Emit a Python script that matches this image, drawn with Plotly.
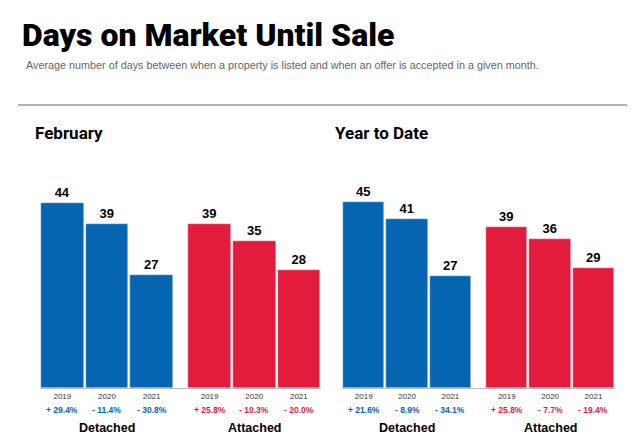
import plotly.graph_objects as go

years = ["2019", "2020", "2021"]
feb_detached = [44, 39, 27]
feb_attached = [39, 35, 28]
ytd_detached = [45, 41, 27]
ytd_attached = [39, 36, 29]
feb_det_chg = ["+ 29.4%", "- 11.4%", "- 30.8%"]
feb_att_chg = ["+ 25.8%", "- 10.3%", "- 20.0%"]
ytd_det_chg = ["+ 21.6%", "- 8.9%", "- 34.1%"]
ytd_att_chg = ["+ 25.8%", "- 7.7%", "- 19.4%"]

BLUE = "#0565b0"
RED = "#e31c3d"
det_x = [0, 1, 2]
att_x = [3.3, 4.3, 5.3]

OX, OY = 8 / 635, 8 / 441
def py(pix):
    return 1 - pix / 441 + OY
def px(pix):
    return pix / 635 - OX

fig = go.Figure()
panels = [
    ("x", "y", feb_detached, feb_attached, feb_det_chg, feb_att_chg),
    ("x2", "y2", ytd_detached, ytd_attached, ytd_det_chg, ytd_att_chg),
]
for xa, ya, det, att, dchg, achg in panels:
    for xs, vals, col in ((det_x, det, BLUE), (att_x, att, RED)):
        fig.add_bar(x=xs, y=vals, marker_color=col, width=0.955, xaxis=xa, yaxis=ya,
                    texttemplate="<b>%{y}</b>", textposition="outside",
                    textfont=dict(size=13, color="black", family="Liberation Sans"),
                    cliponaxis=False, showlegend=False)
    for xs, chg, col, grp in ((det_x, dchg, BLUE, "Detached"), (att_x, achg, RED, "Attached")):
        for x, c in zip(xs, chg):
            fig.add_annotation(x=x, y=py(417), xref=xa, yref="paper", text="<b>%s</b>" % c, showarrow=False,
                               font=dict(size=8.5, color=col, family="Liberation Sans"))
        fig.add_annotation(x=xs[1], y=py(437), xref=xa, yref="paper", text="<b>%s</b>" % grp,
                           showarrow=False, font=dict(size=12.5, color="black", family="Liberation Sans"))

axis_common = dict(tickmode="array", tickvals=det_x + att_x, ticktext=years + years,
                   tickfont=dict(size=8, color="#333"), showline=True, linecolor="#bbb",
                   ticks="", range=[-0.5, 5.8], showgrid=False, zeroline=False)
fig.update_layout(
    width=635, height=441, margin=dict(l=0, r=0, t=0, b=0),
    plot_bgcolor="white", paper_bgcolor="white", bargap=0,
    xaxis=dict(domain=[px(40), px(318) + 0.005], anchor="y", **axis_common),
    xaxis2=dict(domain=[px(342), px(612) + 0.005], anchor="y2", **axis_common),
    yaxis=dict(domain=[py(388), py(160)], range=[0, 54.3], visible=False),
    yaxis2=dict(domain=[py(388), py(160)], range=[0, 55.2], visible=False),
    font=dict(family="Liberation Sans"),
)
fig.add_annotation(x=px(20), y=py(14), xref="paper", yref="paper", xanchor="left",
                   text="Days on Market Until Sale", showarrow=False,
                   font=dict(size=32, color="black", family="Roboto", weight=900))
fig.add_annotation(x=px(24), y=py(57), xref="paper", yref="paper", xanchor="left",
                   text="Average number of days between when a property is listed and when an offer is accepted in a given month.",
                   showarrow=False, font=dict(size=10.8, color="#666"))
fig.add_shape(type="line", xref="paper", yref="paper", x0=px(18), x1=1, y0=py(105), y1=py(105),
              line=dict(color="#999", width=1.5))
for xp, t in ((33, "February"), (333, "Year to Date")):
    fig.add_annotation(x=px(xp), y=py(121), xref="paper", yref="paper", xanchor="left",
                       text="<b>%s</b>" % t, showarrow=False,
                       font=dict(size=17, color="black", family="Roboto"))
fig.write_html("out.html")
